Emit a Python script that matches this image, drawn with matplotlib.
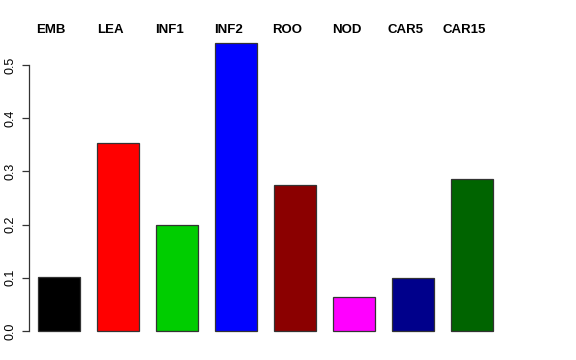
import numpy as np
import matplotlib
matplotlib.use("Agg")
import matplotlib.pyplot as plt

plt.rcParams["font.family"] = ["Liberation Sans", "DejaVu Sans"]

categories = ["EMB", "LEA", "INF1", "INF2", "ROO", "NOD", "CAR5", "CAR15"]
values = [0.102, 0.353, 0.199, 0.541, 0.274, 0.064, 0.100, 0.286]
colors = ["#000000", "#FF0000", "#00CD00", "#0000FF",
          "#8B0000", "#FF00FF", "#00008B", "#006400"]
yticks = [0.0, 0.1, 0.2, 0.3, 0.4, 0.5]

fig = plt.figure(figsize=(5.76, 3.6), dpi=100)
ax = fig.add_axes([29 / 576, 1 - 342.5 / 360, (502 - 29) / 576, (342.5 - 31.7) / 360])

x = np.arange(len(categories))
ax.bar(x, values, width=0.71, color=colors, edgecolor="#333333", linewidth=0.9)

ax.set_xlim(-0.508, 7.508)
ax.set_ylim(-0.0216, 0.5626)

for s in ["top", "right", "bottom"]:
    ax.spines[s].set_visible(False)
ax.spines["left"].set_bounds(0, 0.5)
ax.spines["left"].set_linewidth(0.9)
ax.spines["left"].set_color("#333333")

ax.set_xticks([])
ax.set_yticks(yticks)
ax.set_yticklabels([f"{t:.1f}" for t in yticks], rotation=90, va="center", fontsize=9)
ax.tick_params(axis="y", length=5, width=0.9, color="#333333", pad=4)

# group names sit just above the plot region, slightly left of bar centres
for xi, name in zip(x, categories):
    ax.text(xi - 0.13, 0.5655, name,
            ha="center", va="center", fontsize=9.5, fontweight="bold",
            clip_on=False)

fig.savefig("out.png", dpi=100)
